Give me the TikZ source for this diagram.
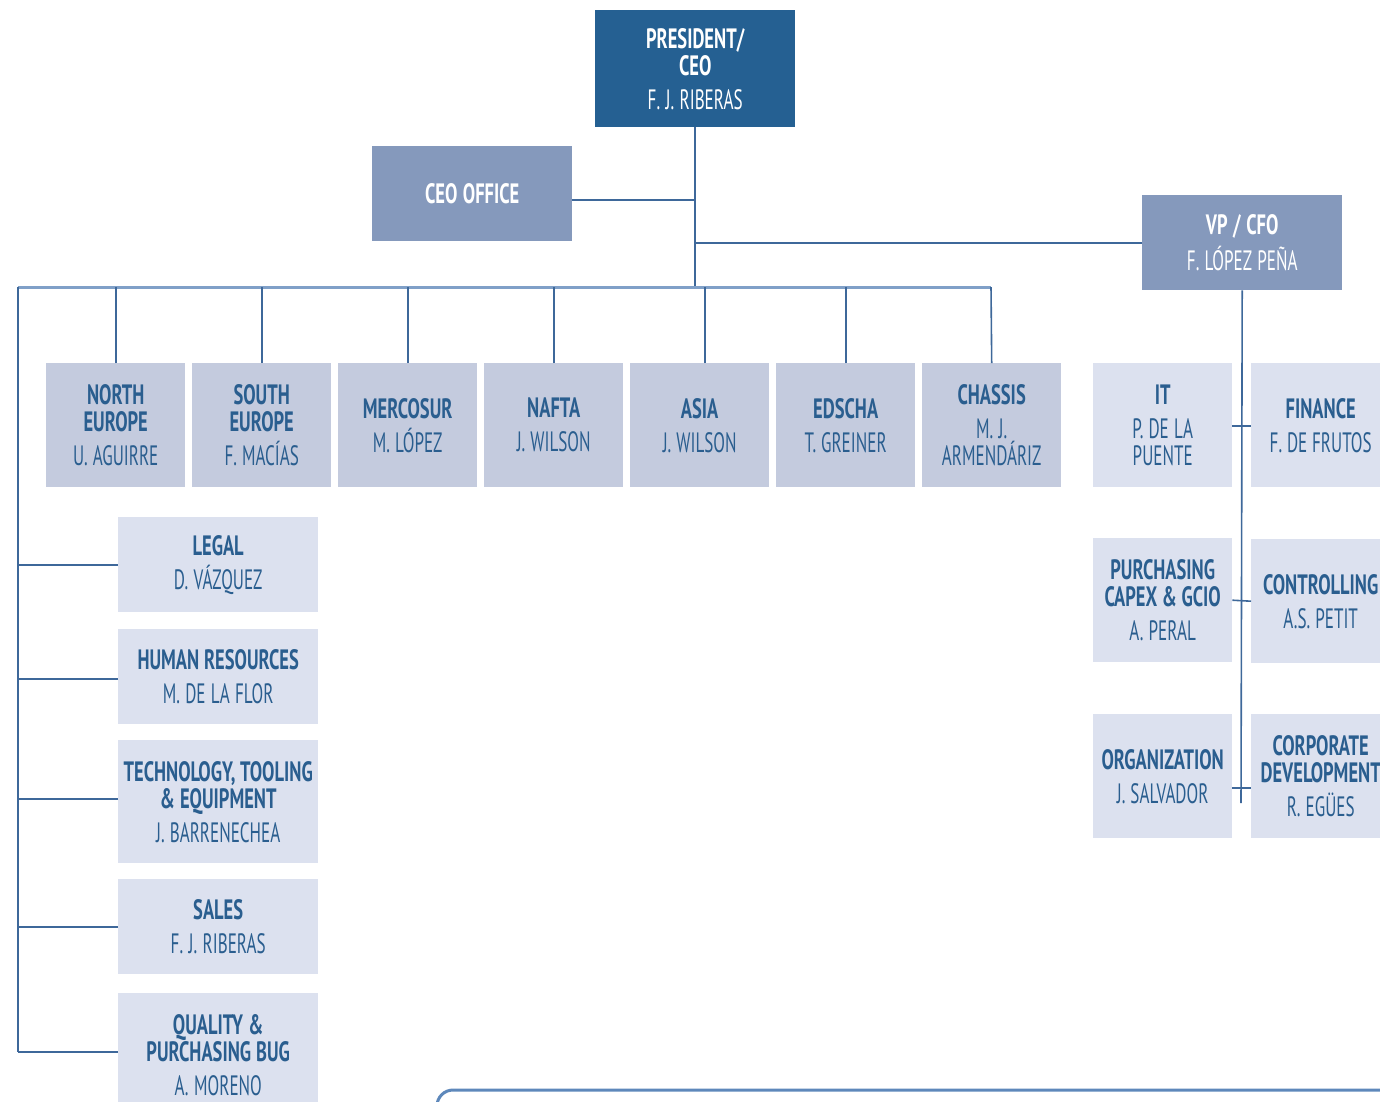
\documentclass[tikz,border=0pt]{standalone}
\usepackage{fontspec}
\setmainfont{PT Sans}[UprightFeatures={FakeStretch=0.61},BoldFeatures={FakeStretch=0.66}]
\usetikzlibrary{positioning,calc}
\definecolor{ceoblue}{RGB}{37,96,146}
\definecolor{midblue}{RGB}{133,153,188}
\definecolor{paleblue}{RGB}{196,203,222}
\definecolor{lightblue}{RGB}{220,225,239}
\definecolor{textblue}{RGB}{42,94,143}
\definecolor{linkblue}{RGB}{62,104,154}
\definecolor{busblue}{RGB}{128,160,200}
\definecolor{frameblue}{RGB}{94,136,187}
\newcommand{\orgfont}{\fontsize{28}{27}\selectfont}
\newcommand{\role}[2]{{\bfseries #1}\\[7pt]#2}
\tikzset{
  region/.style={anchor=north west,fill=paleblue,text=textblue,inner sep=0pt,
    minimum width=139pt,minimum height=124pt,text width=136pt,align=center,font=\orgfont,
    execute at begin node={\spaceskip=4.5pt plus 1pt\relax}},
  staff/.style={region,fill=lightblue},
  wide/.style={staff,minimum width=200pt,minimum height=95pt,text width=198pt},
  head/.style={region,text=white,minimum width=200pt,minimum height=95pt,text width=196pt},
  link/.style={draw=linkblue,line width=1.6pt},
  bus/.style={draw=busblue,line width=3pt}
}

\begin{document}
\begin{tikzpicture}[x=1pt,y=-1pt]
  \useasboundingbox (0,0) rectangle (1380,1101);
  \clip (0,0) rectangle (1380,1101);

  % top
  \node[head,fill=ceoblue,minimum height=117pt] (ceo) at (595,10) {\role{PRESIDENT/\\CEO}{F. J. RIBERAS}};
  \node[head,fill=midblue] (office) at (372,146) {\bfseries CEO OFFICE};
  \node[head,fill=midblue] (cfo) at (1142,195) {\role{VP / CFO}{F. LÓPEZ PEÑA}};

  % regions
  \node[region] (neur) at (46,363) {\role{NORTH\\EUROPE}{U. AGUIRRE}};
  \node[region] (seur) at (192,363) {\role{SOUTH\\EUROPE}{F. MACÍAS}};
  \node[region] (merc) at (338,363) {\role{MERCOSUR}{M. LÓPEZ}};
  \node[region] (nafta) at (484,363) {\role{NAFTA}{J. WILSON}};
  \node[region] (asia) at (630,363) {\role{ASIA}{J. WILSON}};
  \node[region] (edscha) at (776,363) {\role{EDSCHA}{T. GREINER}};
  \node[region] (chassis) at (922,363) {\role{CHASSIS}{M. J.\\ARMENDÁRIZ}};

  % vp / cfo staff
  \node[staff] (it) at (1093,363) {\role{IT}{P. DE LA\\PUENTE}};
  \node[staff] (fin) at (1251,363) {\role{FINANCE}{F. DE FRUTOS}};
  \node[staff] (purch) at (1093,538) {\role{PURCHASING\\CAPEX \& GCIO}{A. PERAL}};
  \node[staff] (ctrl) at (1251,539) {\role{CONTROLLING}{A.S. PETIT}};
  \node[staff] (org) at (1093,714) {\role{ORGANIZATION}{J. SALVADOR}};
  \node[staff] (corp) at (1251,714) {\role{CORPORATE\\DEVELOPMENT}{R. EGÜES}};

  % corporate staff
  \node[wide] (legal) at (118,517) {\role{LEGAL}{D. VÁZQUEZ}};
  \node[wide] (hr) at (118,629) {\role{HUMAN RESOURCES}{M. DE LA FLOR}};
  \node[wide,minimum height=123pt] (tech) at (118,740) {\role{TECHNOLOGY, TOOLING\\\& EQUIPMENT}{J. BARRENECHEA}};
  \node[wide] (sales) at (118,879) {\role{SALES}{F. J. RIBERAS}};
  \node[wide,minimum height=124pt] (qual) at (118,993) {\role{QUALITY \&\\PURCHASING BUG}{A. MORENO}};

  \coordinate (bus) at (18,287);
  \coordinate (busend) at (991,287);
  \coordinate (vpend) at (1241,803);

  % connectors
  \draw[link] (ceo.south) -- (ceo.south |- bus);
  \draw[link] ([yshift=-6pt]office.east) -- ([yshift=-6pt]office.east -| ceo.south);
  \draw[link] (cfo.west) -- (cfo.west -| ceo.south);
  \draw[bus] (bus) -- (busend);
  \draw[link] (neur.north) -- (neur.north |- bus);
  \draw[link] (seur.north) -- (seur.north |- bus);
  \draw[link] (merc.north) -- (merc.north |- bus);
  \draw[link] (nafta.north) -- (nafta.north |- bus);
  \draw[link] ([xshift=5pt]asia.north) -- ([xshift=5pt]asia.north |- bus);
  \draw[link] (edscha.north) -- (edscha.north |- bus);
  \draw[link] (chassis.north) -- (busend);
  \draw[link] (bus) -- ([yshift=3pt]bus |- qual.west);
  \draw[link] (legal.west) -- (legal.west -| bus);
  \draw[link] ([yshift=-2pt]hr.west) -- ([yshift=-2pt]hr.west -| bus);
  \draw[link] ([yshift=3pt]tech.west) -- ([yshift=3pt]tech.west -| bus);
  \draw[link] (sales.west) -- (sales.west -| bus);
  \draw[link] ([yshift=3pt]qual.west) -- ([yshift=3pt]qual.west -| bus);
  \draw[link] (cfo.south) -- (vpend);
  \draw[link] ([yshift=-1pt]it.east) -- ([yshift=-1pt]fin.west);
  \draw[link] (purch.east) -- (ctrl.west);
  \draw[link] ([yshift=-12pt]org.east) -- ([yshift=-12pt]corp.west);

  % frame below
  \draw[draw=frameblue,line width=3pt,rounded corners=16pt] (437,1140) |- (1420,1090);
\end{tikzpicture}
\end{document}
